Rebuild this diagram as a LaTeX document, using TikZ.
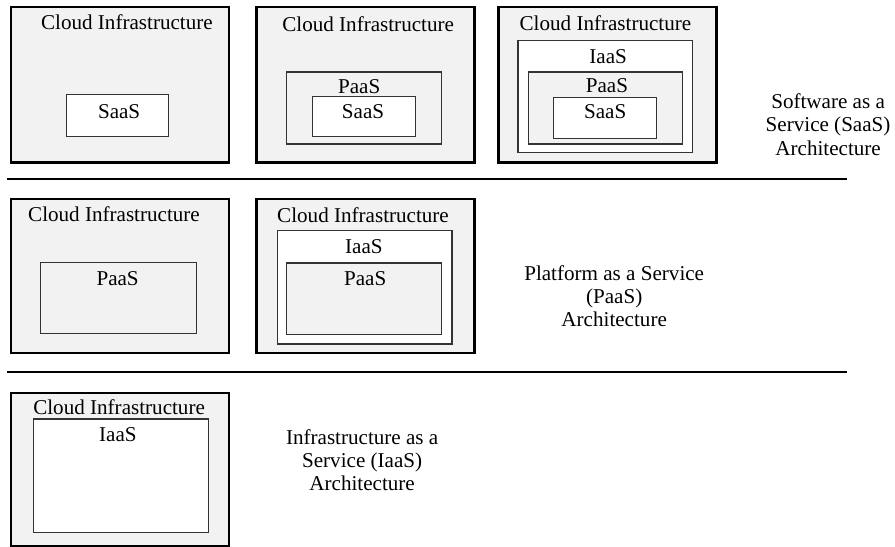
\documentclass[tikz,border=0pt]{standalone}
\usepackage{fontspec}
\setmainfont{Liberation Serif}
\definecolor{infragray}{HTML}{F2F2F2}
\tikzset{
  infrabox/.style={draw,line width=2.6pt,fill=infragray,inner sep=0pt},
  svcbox/.style={draw=black!80,line width=1pt,inner sep=0pt},
  txt/.style={inner sep=0pt,font=\fontsize{20}{22}\selectfont},
  arch/.style={txt,align=center}
}
\begin{document}
\begin{tikzpicture}
\useasboundingbox (0,0) rectangle (29.83,-18.23);

% SaaS row
\node(I1)[infrabox,minimum width=7.27cm,minimum height=5.17cm] at (4.00,-2.82) {};
\node(I1t)[txt] at (4.23,-0.73) {Cloud Infrastructure};
\node(S1)[svcbox,fill=white,minimum width=3.40cm,minimum height=1.37cm] at (3.93,-3.85) {};
\node(S1t)[txt] at (3.97,-3.73) {SaaS};

\node(I2)[infrabox,minimum width=7.27cm,minimum height=5.17cm] at (12.18,-2.82) {};
\node(I2t)[txt] at (12.27,-0.80) {Cloud Infrastructure};
\node(P2)[svcbox,fill=infragray,minimum width=5.17cm,minimum height=2.40cm] at (12.12,-3.60) {};
\node(P2t)[txt] at (11.97,-2.90) {PaaS};
\node(S2)[svcbox,fill=white,minimum width=3.43cm,minimum height=1.33cm] at (12.12,-3.87) {};
\node(S2t)[txt] at (12.10,-3.73) {SaaS};

\node(I3)[infrabox,minimum width=7.27cm,minimum height=5.17cm] at (20.25,-2.82) {};
\node(I3t)[txt] at (20.18,-0.77) {Cloud Infrastructure};
\node(A3)[svcbox,fill=white,minimum width=5.83cm,minimum height=3.73cm] at (20.18,-3.23) {};
\node(A3t)[txt] at (20.27,-1.90) {IaaS};
\node(P3)[svcbox,fill=infragray,minimum width=5.13cm,minimum height=2.40cm] at (20.17,-3.60) {};
\node(P3t)[txt] at (20.23,-2.87) {PaaS};
\node(S3)[svcbox,fill=white,minimum width=3.43cm,minimum height=1.37cm] at (20.15,-3.92) {};
\node(S3t)[txt] at (20.17,-3.73) {SaaS};

\node(SaaSarch)[arch] at (27.60,-4.15) {Software as a\\Service (SaaS)\\Architecture};

\draw[line width=2.6pt] (0.23,-5.97) -- (28.23,-5.97);

% PaaS row
\node(I4)[infrabox,minimum width=7.27cm,minimum height=5.13cm] at (4.00,-9.20) {};
\node(I4t)[txt] at (3.80,-7.13) {Cloud Infrastructure};
\node(P4)[svcbox,fill=infragray,minimum width=5.17cm,minimum height=2.37cm] at (3.95,-9.92) {};
\node(P4t)[txt] at (3.92,-9.27) {PaaS};

\node(I5)[infrabox,minimum width=7.27cm,minimum height=5.13cm] at (12.18,-9.20) {};
\node(I5t)[txt] at (12.10,-7.17) {Cloud Infrastructure};
\node(A5)[svcbox,fill=white,minimum width=5.83cm,minimum height=3.77cm] at (12.15,-9.58) {};
\node(A5t)[txt] at (12.13,-8.23) {IaaS};
\node(P5)[svcbox,fill=infragray,minimum width=5.17cm,minimum height=2.37cm] at (12.12,-9.95) {};
\node(P5t)[txt] at (12.17,-9.27) {PaaS};

\node(PaaSarch)[arch] at (20.47,-9.87) {Platform as a Service\\(PaaS)\\Architecture};

\draw[line width=2.6pt] (0.23,-12.40) -- (28.23,-12.40);

% IaaS row
\node(I6)[infrabox,minimum width=7.27cm,minimum height=5.10cm] at (4.00,-15.65) {};
\node(I6t)[txt] at (3.97,-13.57) {Cloud Infrastructure};
\node(A6)[svcbox,fill=white,minimum width=5.83cm,minimum height=3.77cm] at (4.02,-15.85) {};
\node(A6t)[txt] at (3.93,-14.50) {IaaS};

\node(IaaSarch)[arch] at (12.07,-15.33) {Infrastructure as a\\Service (IaaS)\\Architecture};

\end{tikzpicture}
\end{document}
